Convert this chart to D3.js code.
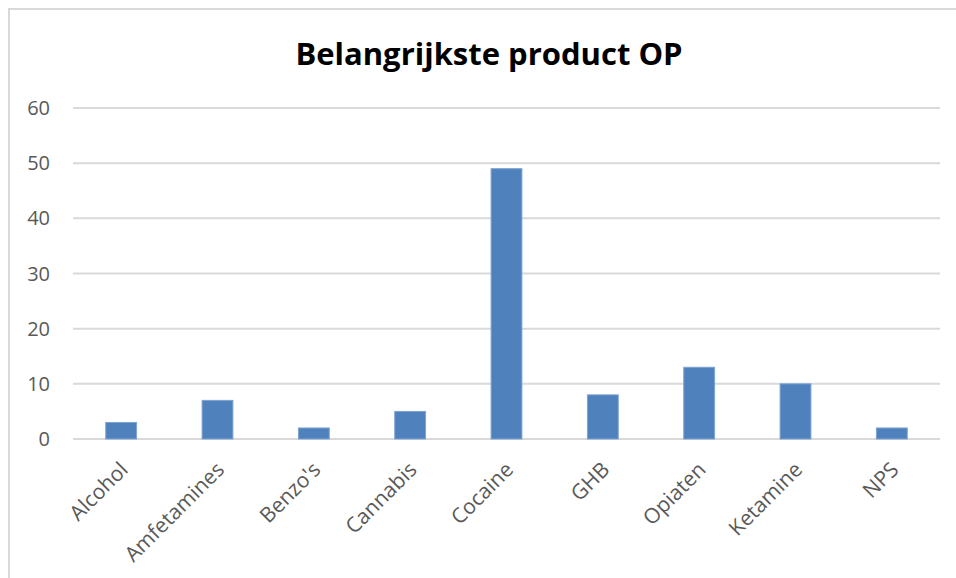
<!DOCTYPE html>
<html lang="nl">
<head>
<meta charset="UTF-8" />
<title>Belangrijkste product OP</title>
<script src="https://d3js.org/d3.v7.min.js"></script>
<style>
  html, body { margin: 0; padding: 0; background: #fff; overflow: hidden; }
  svg { display: block; font-family: 'Open Sans', 'Noto Sans', sans-serif; }
  .grid line { stroke: #d9d9d9; stroke-width: 2px; }
  .tick-label { fill: #595959; font-size: 20px; }
  .cat-label { fill: #595959; font-size: 21px; }
  .title { font-size: 31px; font-weight: 700; fill: #000; text-anchor: middle; }
</style>
</head>
<body>
<svg id="chart"></svg>
<script>
const categories = ["Alcohol", "Amfetamines", "Benzo's", "Cannabis", "Cocaine", "GHB", "Opiaten", "Ketamine", "NPS"];
const values = [3, 7, 2, 5, 49, 8, 13, 10, 2];
const yTicks = [0, 10, 20, 30, 40, 50, 60];

const W = 956, H = 578;
const margin = { left: 73, right: 16, top: 108, bottom: 139 };

const svg = d3.select("#chart").attr("width", W).attr("height", H);

// chart frame
svg.append("rect")
  .attr("x", 9).attr("y", 9)
  .attr("width", W + 10).attr("height", H + 10)
  .attr("fill", "#fff")
  .attr("stroke", "#d9d9d9").attr("stroke-width", 2);

svg.append("text")
  .attr("class", "title")
  .attr("x", 489).attr("y", 65)
  .text("Belangrijkste product OP");

const x = d3.scaleBand()
  .domain(categories)
  .range([margin.left, W - margin.right])
  .paddingInner(0.68).paddingOuter(0.34);

const y = d3.scaleLinear()
  .domain([0, 60])
  .range([H - margin.bottom, margin.top]);

// gridlines
svg.append("g").attr("class", "grid")
  .selectAll("line").data(yTicks).join("line")
  .attr("x1", margin.left).attr("x2", W - margin.right)
  .attr("y1", d => y(d)).attr("y2", d => y(d));

// y tick labels
svg.append("g").selectAll("text").data(yTicks).join("text")
  .attr("class", "tick-label")
  .attr("x", 50).attr("y", d => y(d))
  .attr("dy", "0.35em")
  .attr("text-anchor", "end")
  .text(d => d);

// bars
svg.append("g").selectAll("rect").data(values).join("rect")
  .attr("x", (d, i) => x(categories[i]))
  .attr("width", x.bandwidth())
  .attr("y", d => y(d))
  .attr("height", d => y(0) - y(d))
  .attr("fill", "#4f81bd")
  .attr("stroke", "#7ea3d3").attr("stroke-width", 1);

// category labels
svg.append("g").selectAll("text").data(categories).join("text")
  .attr("class", "cat-label")
  .attr("text-anchor", "end")
  .attr("transform", d => `translate(${x(d) + x.bandwidth() / 2 + 8},${y(0) + 32}) rotate(-45)`)
  .text(d => d);
</script>
</body>
</html>
